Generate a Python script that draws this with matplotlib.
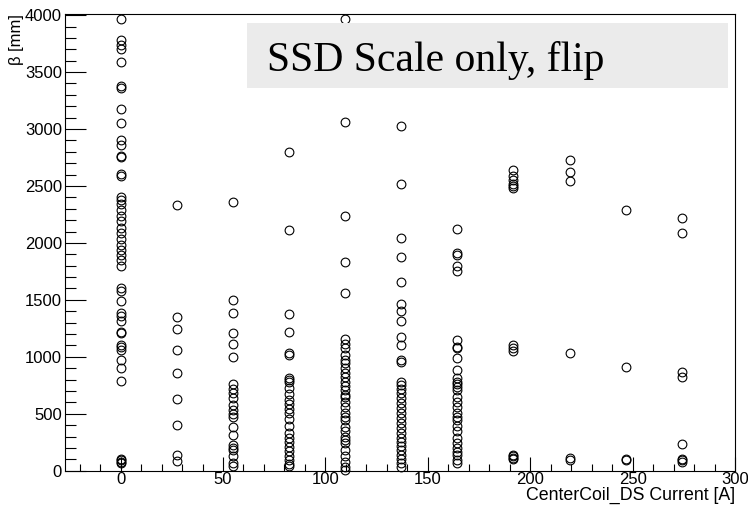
import matplotlib
matplotlib.use("Agg")
import matplotlib.pyplot as plt
from matplotlib.patches import Rectangle
from matplotlib.ticker import MultipleLocator

plt.rcParams["font.family"] = ["Liberation Sans", "DejaVu Sans"]

# CenterCoil_DS current of each column [A]
currents = [0, 27.5, 55, 82, 109.5, 137, 164.5, 191.5, 219.5, 247, 274]

# beta values, one list per current column [mm]
beta_0 = [3965, 3780, 3740, 3700, 3590, 3380, 3360, 3180, 3050, 2905, 2860, 2765,
          2750, 2605, 2585, 2400, 2380, 2345, 2290, 2240, 2190, 2130, 2085, 2035,
          1985, 1935, 1890, 1850, 1795, 1600, 1580, 1490, 1385, 1360, 1310, 1220,
          1205, 1105, 1085, 1060, 970, 900, 790, 100, 90, 80, 70]
beta_27 = [2330, 1350, 1240, 1060, 860, 625, 402, 140, 82]
beta_55 = [2360, 1500, 1385, 1210, 1115, 1000, 760, 720, 680, 635, 580, 530,
           495, 470, 385, 315, 225, 200, 185, 125, 70, 40]
beta_82 = [2800, 2110, 1380, 1220, 1035, 1020, 810, 795, 780, 725, 675, 620,
           585, 540, 505, 455, 390, 335, 285, 255, 210, 170, 125, 95, 60, 40]
beta_110 = [3965, 3060, 2240, 1830, 1560, 1160, 1110, 1075, 1015, 975, 945, 900,
            855, 820, 780, 740, 710, 665, 650, 600, 560, 505, 470, 445, 385,
            345, 300, 270, 240, 180, 130, 80, 35, 10]
beta_137 = [3030, 2515, 2045, 1875, 1660, 1465, 1400, 1310, 1170, 1105, 970,
            950, 780, 755, 720, 680, 640, 590, 550, 505, 460, 415, 375, 330,
            290, 255, 215, 180, 140, 100, 65, 35]
beta_165 = [2125, 1910, 1890, 1795, 1750, 1145, 1090, 1075, 990, 880, 810, 780,
            760, 735, 710, 645, 600, 560, 505, 475, 445, 395, 345, 285, 240,
            200, 165, 140, 95, 65]
beta_192 = [2640, 2590, 2550, 2520, 2500, 2480, 1100, 1075, 1055, 140, 125, 110, 100]
beta_220 = [2725, 2620, 2540, 1035, 110, 95]
beta_247 = [2285, 910, 100, 90]
beta_275 = [2215, 2085, 870, 825, 232, 100, 90, 80]

beta_cols = [beta_0, beta_27, beta_55, beta_82, beta_110, beta_137,
             beta_165, beta_192, beta_220, beta_247, beta_275]

fig = plt.figure(figsize=(7.48, 5.12), dpi=100)
ax = fig.add_axes([0.0873, 0.0807, 0.8953, 0.892])

for cur, betas in zip(currents, beta_cols):
    ax.plot([cur] * len(betas), betas, linestyle="none", marker="o",
            markersize=6.3, markerfacecolor="none", markeredgecolor="black",
            markeredgewidth=0.8, clip_on=False)

ax.set_xlim(-27, 300)
ax.set_ylim(0, 4010)

ax.xaxis.set_major_locator(MultipleLocator(50))
ax.xaxis.set_minor_locator(MultipleLocator(10))
ax.yaxis.set_major_locator(MultipleLocator(500))
ax.yaxis.set_minor_locator(MultipleLocator(100))

ax.tick_params(which="both", direction="in", top=False, right=False,
               width=0.8, labelsize=12, colors="black")
ax.tick_params(axis="y", which="major", length=15, pad=2.5)
ax.tick_params(axis="y", which="minor", length=7.7)
ax.tick_params(axis="x", which="major", length=10, pad=1)
ax.tick_params(axis="x", which="minor", length=5)

for side in ax.spines.values():
    side.set_linewidth(0.8)

ax.set_xlabel("CenterCoil_DS Current [A]", fontsize=12.8, loc="right")
ax.xaxis.set_label_coords(1.0, -0.036)
ax.set_ylabel("β [mm]", fontsize=12, loc="top")
ax.yaxis.set_label_coords(-0.062, 1.0)

# title box, ROOT style
fig.patches.append(Rectangle((0.3298, 0.8275), 0.6431, 0.1282,
                             transform=fig.transFigure, facecolor="#ebebeb",
                             edgecolor="none", zorder=5))
fig.text(0.3565, 0.862, "SSD Scale only, flip", fontsize=30,
         family="Liberation Serif", va="baseline", ha="left", zorder=6)

fig.savefig("out.png", dpi=100)
